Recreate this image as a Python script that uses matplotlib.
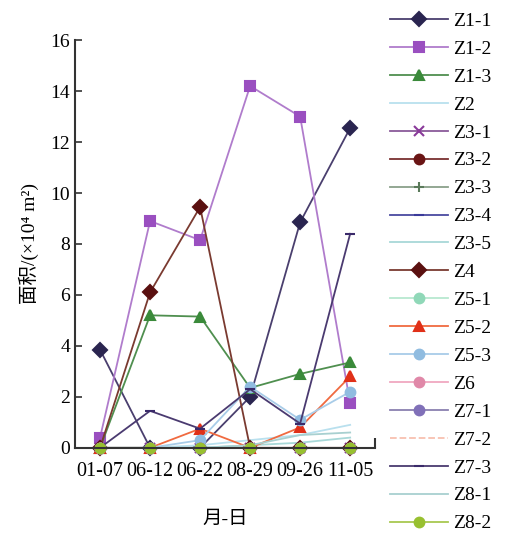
import numpy as np
import matplotlib
matplotlib.use('Agg')
import matplotlib.pyplot as plt

plt.rcParams['font.family'] = ['Liberation Serif', 'Noto Sans CJK SC']
plt.rcParams['mathtext.fontset'] = 'stix'

# dates (month-day)
dates = ['01-07', '06-12', '06-22', '08-29', '09-26', '11-05']

# area values (x10^4 m2)
z1_1 = [3.85, 0, 0, 2.0, 8.85, 12.55]
z1_2 = [0.4, 8.9, 8.15, 14.2, 13.0, 1.75]
z1_3 = [0, 5.2, 5.15, 2.35, 2.9, 3.35]
z2 = [0, 0, 0.1, 0.3, 0.5, 0.9]
z3_1 = [0, 0, 0, 0, 0, 0]
z3_2 = [0, 0, 0, 0, 0, 0]
z3_3 = [0, 0, 0, 0, 0, 0]
z3_4 = [0, 0, 0, 0, 0, 0]
z3_5 = [0, 0, 0, 0.1, 0.2, 0.4]
z4 = [0, 6.1, 9.45, 0, 0, 0]
z5_1 = [0, 0, 0, 0, 0, 0]
z5_2 = [0, 0, 0.75, 0, 0.8, 2.8]
z5_3 = [0, 0, 0.3, 2.4, 1.1, 2.2]
z6 = [0, 0, 0, 0, 0, 0]
z7_1 = [0, 0, 0, 0, 0, 0]
z7_2 = [0, 0, 0, 0, 0, 0]
z7_3 = [0, 1.45, 0.75, 2.3, 0.95, 8.4]
z8_1 = [0, 0, 0, 0.1, 0.5, 0.6]
z8_2 = [0, 0, 0, 0, 0, 0]

names = ['Z1-1', 'Z1-2', 'Z1-3', 'Z2', 'Z3-1', 'Z3-2', 'Z3-3', 'Z3-4', 'Z3-5', 'Z4',
         'Z5-1', 'Z5-2', 'Z5-3', 'Z6', 'Z7-1', 'Z7-2', 'Z7-3', 'Z8-1', 'Z8-2']
series = [z1_1, z1_2, z1_3, z2, z3_1, z3_2, z3_3, z3_4, z3_5, z4,
          z5_1, z5_2, z5_3, z6, z7_1, z7_2, z7_3, z8_1, z8_2]

# (line colour, marker colour, marker)
styles = [
    ('#4a3f6e', '#2a2550', 'D'),
    ('#b07ccc', '#9a4fc0', 's'),
    ('#4f8f4f', '#3a8a3a', '^'),
    ('#b9e0ee', '#b9e0ee', 'None'),
    ('#8a5a9a', '#8a3a9a', 'x'),
    ('#7a3030', '#6a1515', 'o'),
    ('#8aa08a', '#5a7a5a', '+'),
    ('#4a4aa0', '#3a3a9a', '_'),
    ('#a8d8d8', '#a8d8d8', 'None'),
    ('#7a3a30', '#5a1010', 'D'),
    ('#b8e8d0', '#90d8b8', 'o'),
    ('#f06a40', '#e03018', '^'),
    ('#a8cce8', '#90bce0', 'o'),
    ('#f0a8c0', '#e088a8', 'o'),
    ('#8a80b0', '#8070b8', 'o'),
    ('#f8c0b0', '#f0a090', 'None'),
    ('#4a3a70', '#3a2a6a', '_'),
    ('#a8d0d0', '#90c8c8', 'None'),
    ('#a8c850', '#98c030', 'o'),
]

fig = plt.figure(figsize=(5.07, 5.35), dpi=100)
ax = fig.add_axes([0.148, 0.163, 0.592, 0.762])

x = np.arange(len(dates))
for name, vals, (lc, mc, mk) in zip(names, series, styles):
    ls = '--' if name == 'Z7-2' else '-'
    ax.plot(x, vals, color=lc, linestyle=ls, linewidth=1.3, marker=mk,
            markersize=7, markerfacecolor=mc, markeredgecolor=mc,
            markeredgewidth=1.5, label=name, clip_on=False)

ax.set_xlim(-0.5, 5.5)
ax.set_ylim(0, 16)
ax.set_yticks(np.arange(0, 17, 2))
ax.set_xticks(x)
ax.set_xticklabels(dates)
ax.set_xticks([5.5], minor=True)
ax.tick_params(axis='x', which='major', length=0, labelsize=14.5, pad=10)
ax.tick_params(axis='x', which='minor', direction='in', length=7, width=1.5, color='#333333')
ax.tick_params(axis='y', direction='in', length=5, width=1.2, labelsize=14, color='#333333')

for side in ['top', 'right']:
    ax.spines[side].set_visible(False)
for side in ['left', 'bottom']:
    ax.spines[side].set_linewidth(1.5)
    ax.spines[side].set_color('#333333')

ax.set_ylabel('面积/(×10⁴ m²)', fontsize=14, labelpad=8)
ax.set_xlabel('月-日', fontsize=14, labelpad=22)

fig.legend(loc='upper left', bbox_to_anchor=(0.769, 0.977), frameon=False,
           fontsize=14, handlelength=3.0, handletextpad=0.25,
           labelspacing=0.53, borderpad=0, borderaxespad=0)

fig.savefig('out.png', dpi=100)
